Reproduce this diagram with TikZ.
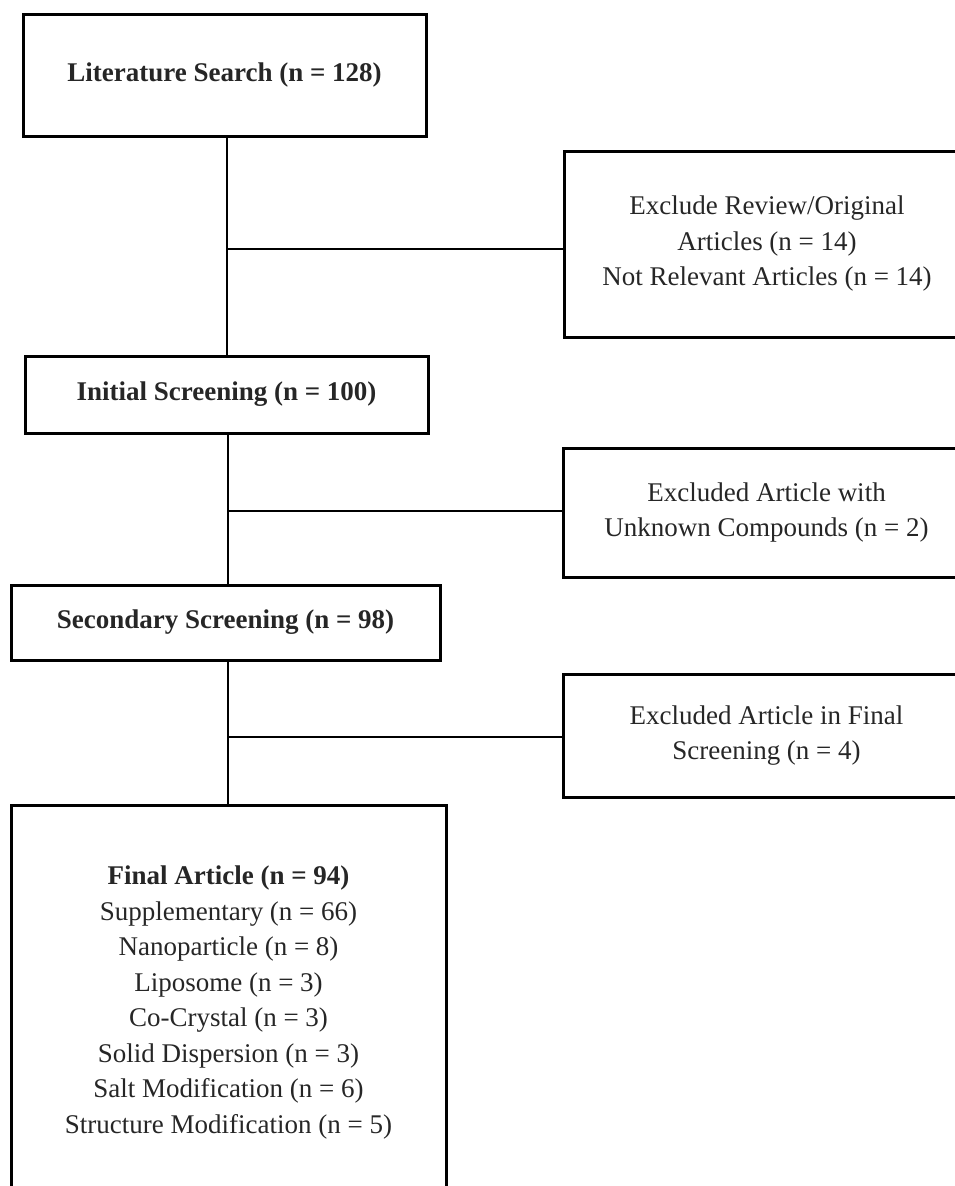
\documentclass[tikz,border=0pt]{standalone}
\usepackage{fontspec}
\setmainfont{Liberation Serif}
\begin{document}
\begin{tikzpicture}[x=1pt,y=-1pt,
  box/.style={draw=black, line width=3pt, inner sep=0pt, outer sep=0pt, align=center,
    font=\fontsize{27}{35.5}\selectfont, text=black!85},
  conn/.style={draw=black, line width=1.5pt}]
\useasboundingbox (0,0) rectangle (955,1186);
\clip (0,0) rectangle (955,1186);
\node[box, minimum width=403pt, minimum height=122pt] (lit) at (224.5,75) {\textbf{Literature Search (n = 128)}};
\node[box, minimum width=406pt, minimum height=186pt] (ex1) at (767,244) {Exclude Review/Original\\Articles (n = 14)\\Not Relevant Articles (n = 14)};
\node[box, minimum width=403pt, minimum height=77pt] (init) at (226.5,394.5) {\textbf{Initial Screening (n = 100)}};
\node[box, minimum width=407pt, minimum height=129pt] (ex2) at (766.5,512.5) {Excluded Article with\\Unknown Compounds (n = 2)};
\node[box, minimum width=429pt, minimum height=75pt] (sec) at (225.5,622.5) {\textbf{Secondary Screening (n = 98)}};
\node[box, minimum width=407pt, minimum height=123pt] (ex3) at (766.5,735.5) {Excluded Article in Final\\Screening (n = 4)};
\node[box, minimum width=435pt, minimum height=395pt] (fin) at (228.5,1002.5) {\textbf{Final Article (n = 94)}\\Supplementary (n = 66)\\Nanoparticle (n = 8)\\Liposome (n = 3)\\Co-Crystal (n = 3)\\Solid Dispersion (n = 3)\\Salt Modification (n = 6)\\Structure Modification (n = 5)};
\coordinate (j1) at (227,249);
\coordinate (j2) at (228,511);
\coordinate (j3) at (228,737);
\draw[conn] (lit.south -| j1) -- (init.north -| j1);
\draw[conn] (j1) -- (ex1.west |- j1);
\draw[conn] (init.south -| j2) -- (sec.north -| j2);
\draw[conn] (j2) -- (ex2.west |- j2);
\draw[conn] (sec.south -| j3) -- (fin.north -| j3);
\draw[conn] (j3) -- (ex3.west |- j3);
\end{tikzpicture}
\end{document}
